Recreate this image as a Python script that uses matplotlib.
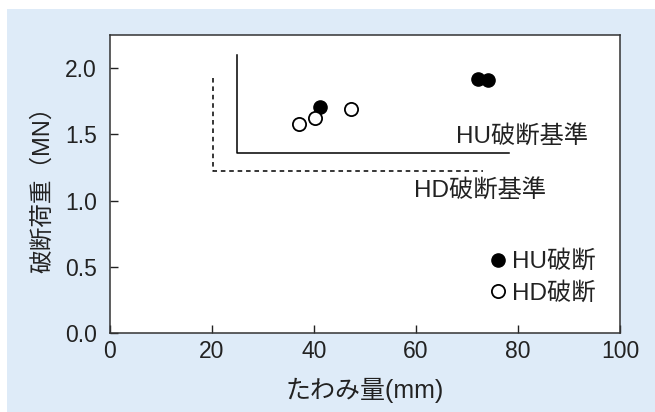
import matplotlib
matplotlib.use("Agg")
import matplotlib.pyplot as plt
from matplotlib.patches import Rectangle

plt.rcParams['font.family'] = ['Liberation Sans', 'Noto Sans CJK JP', 'DejaVu Sans']

# data
hu_x = [41.2, 72.1, 74.1]
hu_y = [1.705, 1.919, 1.909]
hd_x = [37.2, 40.3, 47.3]
hd_y = [1.576, 1.622, 1.692]

# failure criteria (corner lines)
hu_crit_x = [25.0, 25.0, 78.2]
hu_crit_y = [2.10, 1.36, 1.36]
hd_crit_x = [20.3, 20.3, 73.1]
hd_crit_y = [1.93, 1.225, 1.225]

xticks = [0, 20, 40, 60, 80, 100]
yticks = [0.0, 0.5, 1.0, 1.5, 2.0]

fig = plt.figure(figsize=(6.55, 4.12), dpi=100)
fig.patch.set_facecolor('white')
fig.patches.append(Rectangle((7 / 655, 0), 1, 1 - 9 / 412, transform=fig.transFigure,
                             facecolor='#deebf8', edgecolor='none', zorder=-10))

ax = fig.add_axes([109.5 / 655, 1 - 333 / 412, (620 - 109.5) / 655, (333 - 34.5) / 412])
ax.set_facecolor('white')

ax.plot(hu_crit_x, hu_crit_y, color='black', lw=1.1)
ax.plot(hd_crit_x, hd_crit_y, color='black', lw=1.1, ls=(0, (3, 2.5)))

ax.plot(hu_x, hu_y, 'o', color='black', ms=9.5, label='HU破断', zorder=3)
ax.plot(hd_x, hd_y, 'o', mfc='white', mec='black', mew=1.3, ms=9.5, label='HD破断', zorder=4)

ax.text(67.8, 1.48, 'HU破断基準', fontsize=17.5, va='center', ha='left', color='#222222')
ax.text(59.6, 1.07, 'HD破断基準', fontsize=17.5, va='center', ha='left', color='#222222')

ax.legend(loc='lower right', bbox_to_anchor=(0.975, 0.055), frameon=False, fontsize=17.5,
          handletextpad=0.05, handlelength=1.0, labelspacing=0.35, borderpad=0,
          labelcolor='#222222')

ax.set_xlim(0, 100)
ax.set_ylim(0, 2.255)
ax.set_xticks(xticks)
ax.set_yticks(yticks)
ax.set_yticklabels([f'{v:.1f}' for v in yticks])
ax.tick_params(direction='in', length=6, width=1, colors='#222222', labelsize=16.5)
ax.tick_params(axis='y', pad=9)
ax.tick_params(axis='x', pad=5)
for s in ax.spines.values():
    s.set_linewidth(1.1)
    s.set_color('#333333')

ax.set_xlabel('たわみ量(mm)', fontsize=18, color='#222222', labelpad=11)
ax.set_ylabel('破断荷重（MN）', fontsize=17, color='#222222', labelpad=8)

fig.savefig('out.png', dpi=100)
